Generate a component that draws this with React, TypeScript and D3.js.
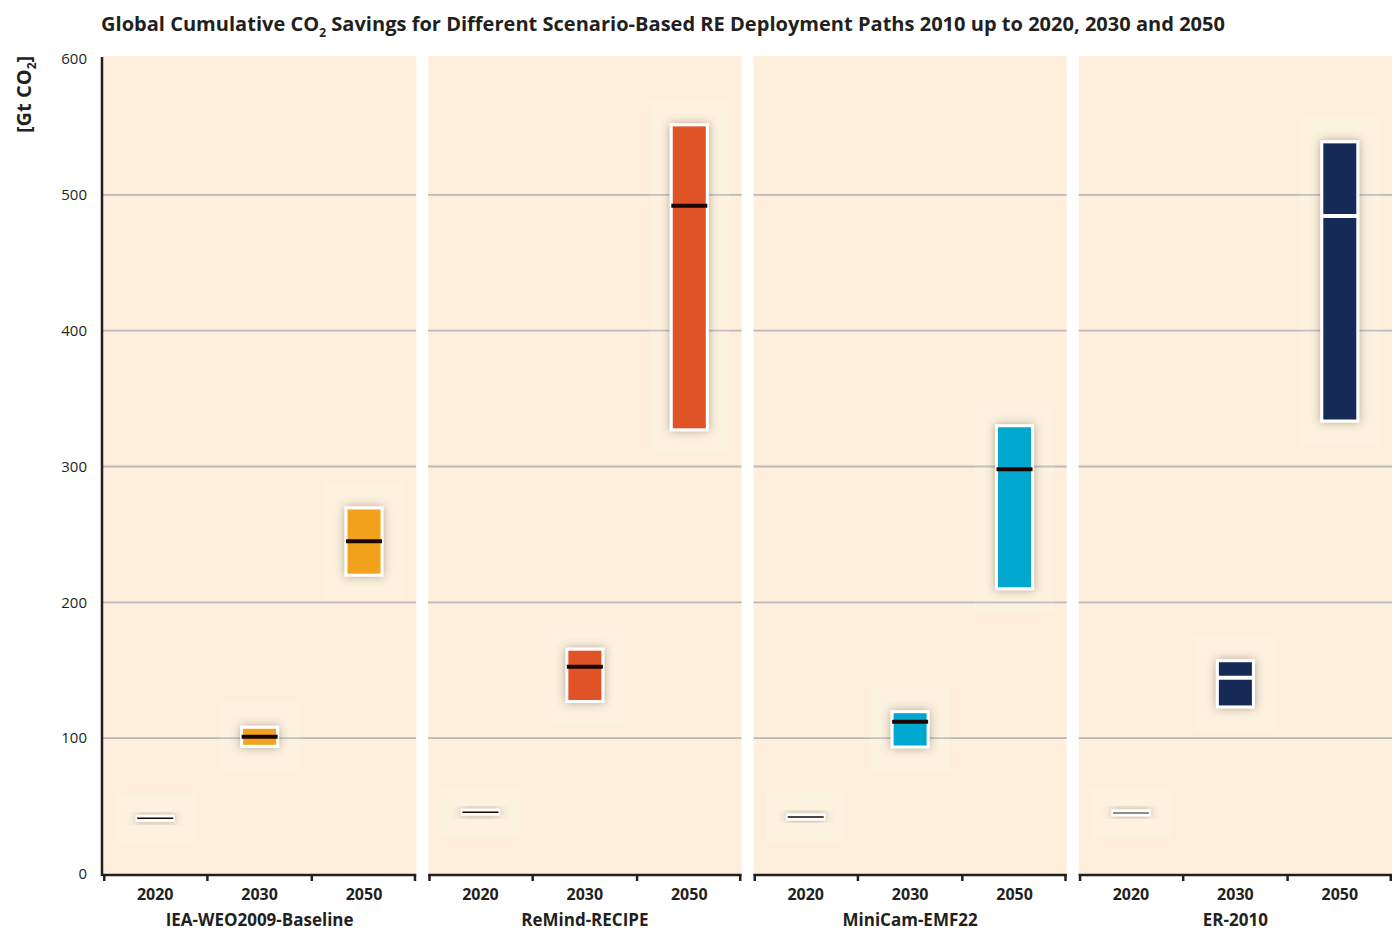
import React from "react";
import * as d3 from "d3";

const scenarios = ["IEA-WEO2009-Baseline", "ReMind-RECIPE", "MiniCam-EMF22", "ER-2010"];
const years = ["2020", "2030", "2050"];
const lowValues = [
  [41, 94, 220],
  [45.5, 127, 327],
  [42, 93.5, 210],
  [45, 123, 333.5],
];
const highValues = [
  [41, 108, 269.5],
  [45.5, 165.5, 551.5],
  [42, 119.5, 330],
  [45, 157, 539],
];
const medianValues = [
  [41, 101, 245],
  [45.5, 152.5, 492],
  [42, 112, 298],
  [45, 144.5, 484.5],
];
const yTicks = [0, 100, 200, 300, 400, 500, 600];
const colors = ["#f3a21d", "#e05326", "#00a7cf", "#172c58"];
const medianColors = ["#1a0500", "#1a0500", "#1a0500", "#ffffff"];
const thinMedianColors = ["#1a0500", "#1a0500", "#1a0500", "#666666"];

const W = 1399;
const H = 932;
const FONT = "'Open Sans', 'DejaVu Sans', sans-serif";
const TEXT = "#231f20";

export default function App() {
  const y = d3.scaleLinear().domain([0, 600]).range([874, 59]);
  const px = d3.scaleBand<string>().domain(scenarios).range([103, 1392]).paddingInner(0.037).paddingOuter(0);
  const pw = px.bandwidth();
  const yx = d3.scaleBand<string>().domain(years).range([0, pw]);
  const boxW = 36;

  return (
    <svg width={W} height={H} style={{ display: "block", position: "absolute", left: 0, top: 0, background: "#fff" }}>
      <defs>
        <filter id="shadow" x="-100%" y="-100%" width="300%" height="300%">
          <feDropShadow dx="0" dy="0" stdDeviation="5" floodColor="#5a4a30" floodOpacity="0.45" />
        </filter>
      </defs>
      {/* title */}
      <text x={101} y={31} fontFamily={FONT} fontWeight={700} fontSize={20} fill={TEXT} textLength={1124} lengthAdjust="spacingAndGlyphs">
        Global Cumulative CO<tspan fontSize={12} dy={6}>2</tspan>
        <tspan dy={-6}> Savings for Different Scenario-Based RE Deployment Paths 2010 up to 2020, 2030 and 2050</tspan>
      </text>
      {/* y label */}
      <text transform={`translate(31,133) rotate(-90)`} fontFamily={FONT} fontWeight={700} fontSize={20} fill={TEXT}>
        [Gt CO<tspan fontSize={12} dy={5}>2</tspan>
        <tspan dy={-5}>]</tspan>
      </text>
      {/* panels */}
      {scenarios.map((s, i) => {
        const x0 = px(s)!;
        return (
          <g key={s}>
            <rect x={x0} y={56} width={pw} height={y(0) - 56} fill="#fdefdc" />
            {yTicks.filter((t) => t > 0 && t < 600).map((t) => (
              <line key={t} x1={x0} x2={x0 + pw} y1={y(t)} y2={y(t)} stroke="#b9b8ba" strokeWidth={1.8} />
            ))}
            {years.map((yr, j) => {
              const cx = x0 + yx(yr)! + yx.bandwidth() / 2;
              const top = y(highValues[i][j]);
              const bot = y(lowValues[i][j]);
              const h = bot - top;
              const med = y(medianValues[i][j]);
              const thin = h < 2;
              return (
                <g key={yr}>
                  <rect x={cx - boxW / 2 - 22} y={top - 25} width={boxW + 44} height={h + 50} fill="#ffffff" opacity={0.13} />
                  <rect
                    x={cx - boxW / 2}
                    y={thin ? med - 2 : top}
                    width={boxW}
                    height={thin ? 4 : h}
                    fill={thin ? "#ffffff" : colors[i]}
                    stroke="#ffffff"
                    strokeWidth={3}
                    filter="url(#shadow)"
                  />
                  <line
                    x1={cx - boxW / 2}
                    x2={cx + boxW / 2}
                    y1={med}
                    y2={med}
                    stroke={thin ? thinMedianColors[i] : medianColors[i]}
                    strokeWidth={thin ? 1.5 : 4}
                  />
                  <text x={cx} y={900} textAnchor="middle" fontFamily={FONT} fontWeight={700} fontSize={16} fill={TEXT}>
                    {yr}
                  </text>
                </g>
              );
            })}
            {/* x axis */}
            <line x1={x0} x2={x0 + pw} y1={875} y2={875} stroke={TEXT} strokeWidth={2.5} />
            {[0, 1, 2, 3].map((k) => {
              const tx = k === 0 ? x0 + 1.25 : k === 3 ? x0 + pw - 1.25 : x0 + yx(years[k])!;
              return <line key={k} x1={tx} x2={tx} y1={874} y2={881} stroke={TEXT} strokeWidth={2.5} />;
            })}
            <text x={x0 + pw / 2} y={926} textAnchor="middle" fontFamily={FONT} fontWeight={700} fontSize={17} fill={TEXT}>
              {s}
            </text>
          </g>
        );
      })}
      {/* y axis */}
      <line x1={102} x2={102} y1={57} y2={876} stroke={TEXT} strokeWidth={2.5} />
      {yTicks.map((t) => (
        <text key={t} x={87} y={y(t)} dy="0.35em" textAnchor="end" fontFamily={FONT} fontSize={15} fill={TEXT}>
          {t}
        </text>
      ))}
    </svg>
  );
}
